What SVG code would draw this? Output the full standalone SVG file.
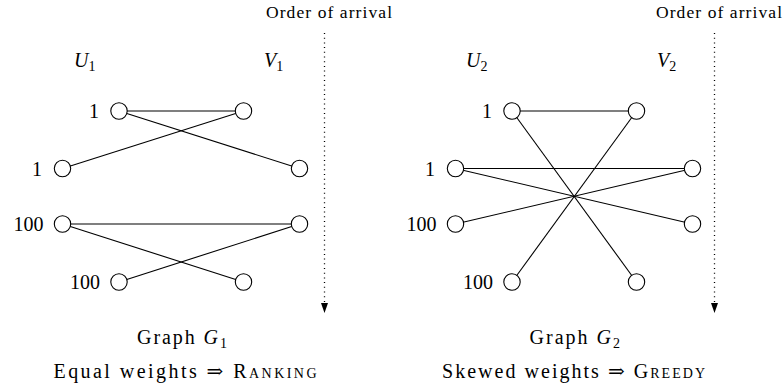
<svg xmlns="http://www.w3.org/2000/svg" width="784" height="388" viewBox="0 0 784 388" font-family="'Liberation Serif', 'Times New Roman', Times, 'DejaVu Serif', serif">
<style>
text, tspan{font-family:"Liberation Serif","Times New Roman",Times,"DejaVu Serif",serif;fill:#000}
.num{font-size:20px;text-anchor:end}
.lab{font-size:20px;font-style:italic}
.sub{font-size:14px;font-style:normal}
.cap{font-size:20px}
.ord{font-size:17.5px}
.sc{font-variant:small-caps}
.edge{stroke:#000;stroke-width:1.1;fill:none}
.node{fill:#fff;stroke:#000;stroke-width:1.1}
.dot{stroke:#000;stroke-width:1.3;stroke-dasharray:1 3.7;fill:none}
</style>
<defs>
<marker id="ah" markerWidth="10" markerHeight="7" refX="0" refY="3.5" orient="auto" markerUnits="userSpaceOnUse" viewBox="0 0 10 7">
<path d="M0,0 L10,3.5 L0,7 Z" fill="#000"/>
</marker>
</defs>

<g id="connectors">
<line class="edge" x1="119" y1="111" x2="243.5" y2="111"/>
<line class="edge" x1="119" y1="111" x2="299.5" y2="168.5"/>
<line class="edge" x1="62.5" y1="168.5" x2="243.5" y2="111"/>
<line class="edge" x1="62.5" y1="224" x2="299.5" y2="224"/>
<line class="edge" x1="62.5" y1="224" x2="243.5" y2="282"/>
<line class="edge" x1="119" y1="282" x2="299.5" y2="224"/>

<line class="edge" x1="512" y1="111" x2="636.5" y2="111"/>
<line class="edge" x1="512" y1="111" x2="636.5" y2="282"/>
<line class="edge" x1="455.5" y1="168.5" x2="692.5" y2="168.5"/>
<line class="edge" x1="455.5" y1="168.5" x2="692.5" y2="224"/>
<line class="edge" x1="455.5" y1="224" x2="692.5" y2="168.5"/>
<line class="edge" x1="512" y1="282" x2="636.5" y2="111"/>

<line class="dot" x1="324.5" y1="33" x2="324.5" y2="303" marker-end="url(#ah)"/>
<line class="dot" x1="714.5" y1="33" x2="714.5" y2="303" marker-end="url(#ah)"/>
</g>

<g id="g1-u1"><circle class="node" cx="119" cy="111" r="8.2"/><text class="num" x="99" y="118">1</text></g>
<g id="g1-u2"><circle class="node" cx="62.5" cy="168.5" r="8.2"/><text class="num" x="42" y="175.5">1</text></g>
<g id="g1-u3"><circle class="node" cx="62.5" cy="224" r="8.2"/><text class="num" x="43.5" y="231">100</text></g>
<g id="g1-u4"><circle class="node" cx="119" cy="282" r="8.2"/><text class="num" x="100" y="289">100</text></g>
<g id="g1-v1"><circle class="node" cx="243.5" cy="111" r="8.2"/></g>
<g id="g1-v2"><circle class="node" cx="299.5" cy="168.5" r="8.2"/></g>
<g id="g1-v3"><circle class="node" cx="299.5" cy="224" r="8.2"/></g>
<g id="g1-v4"><circle class="node" cx="243.5" cy="282" r="8.2"/></g>

<g id="g2-u1"><circle class="node" cx="512" cy="111" r="8.2"/><text class="num" x="492" y="118">1</text></g>
<g id="g2-u2"><circle class="node" cx="455.5" cy="168.5" r="8.2"/><text class="num" x="435" y="175.5">1</text></g>
<g id="g2-u3"><circle class="node" cx="455.5" cy="224" r="8.2"/><text class="num" x="436.5" y="231">100</text></g>
<g id="g2-u4"><circle class="node" cx="512" cy="282" r="8.2"/><text class="num" x="493" y="289">100</text></g>
<g id="g2-v1"><circle class="node" cx="636.5" cy="111" r="8.2"/></g>
<g id="g2-v2"><circle class="node" cx="692.5" cy="168.5" r="8.2"/></g>
<g id="g2-v3"><circle class="node" cx="692.5" cy="224" r="8.2"/></g>
<g id="g2-v4"><circle class="node" cx="636.5" cy="282" r="8.2"/></g>

<g id="labels">
<text class="lab" x="74" y="67">U<tspan class="sub" dy="3.5">1</tspan></text>
<text class="lab" x="264" y="67">V<tspan class="sub" dy="3.5">1</tspan></text>
<text class="lab" x="466" y="67">U<tspan class="sub" dy="3.5">2</tspan></text>
<text class="lab" x="657" y="67">V<tspan class="sub" dy="3.5">2</tspan></text>

<text class="ord" x="266" y="18" textLength="126">Order of arrival</text>
<text class="ord" x="656" y="18" textLength="126">Order of arrival</text>

<text class="cap" x="137" y="344" textLength="90">Graph <tspan font-style="italic">G</tspan><tspan class="sub" dy="3.5">1</tspan></text>
<text class="cap" x="529.5" y="344" textLength="90.5">Graph <tspan font-style="italic">G</tspan><tspan class="sub" dy="3.5">2</tspan></text>
<text class="cap" x="53.5" y="378" textLength="263">Equal weights ⇒ <tspan class="sc">Ranking</tspan></text>
<text class="cap" x="442" y="378" textLength="263">Skewed weights ⇒ <tspan class="sc">Greedy</tspan></text>
</g>
</svg>
